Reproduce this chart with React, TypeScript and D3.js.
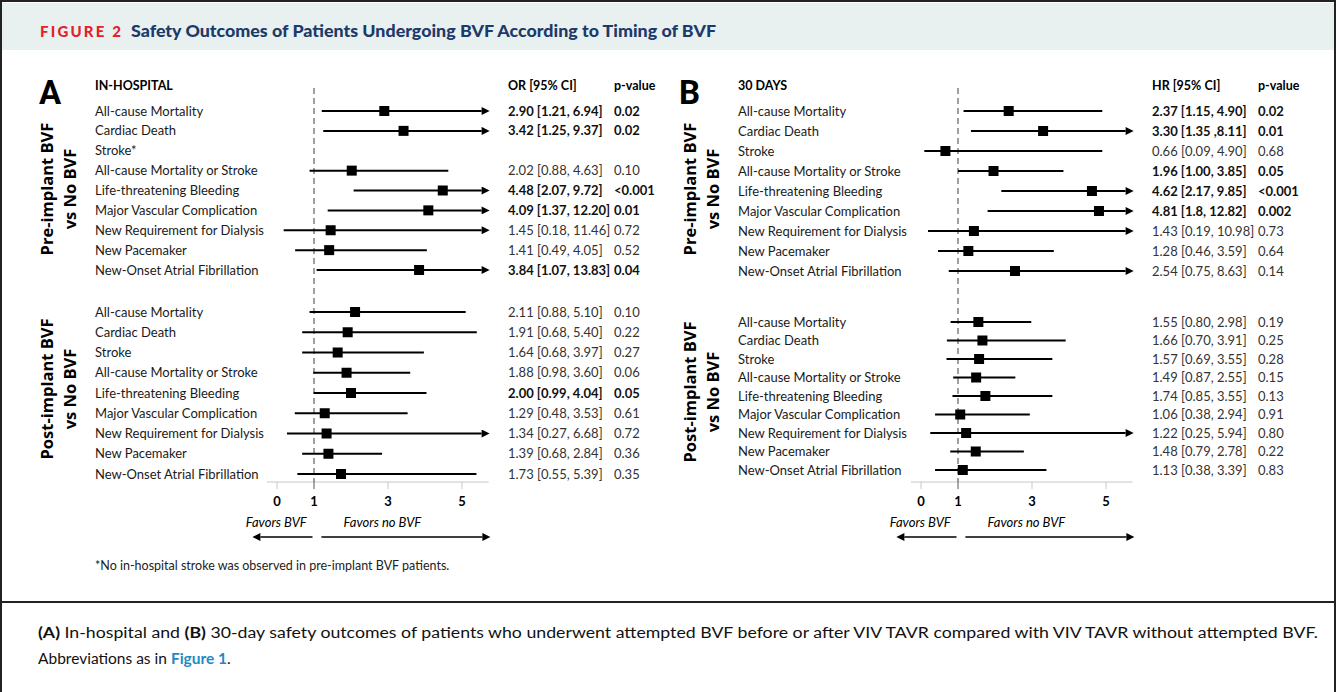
import React, { useEffect, useRef } from 'react';
import * as d3 from 'd3';

// outcome names, same order in every block
const outcomes = [
  'All-cause Mortality',
  'Cardiac Death',
  'Stroke',
  'All-cause Mortality or Stroke',
  'Life-threatening Bleeding',
  'Major Vascular Complication',
  'New Requirement for Dialysis',
  'New Pacemaker',
  'New-Onset Atrial Fibrillation',
];

// A: in-hospital, pre-implant BVF vs no BVF (stroke not observed)
const hospPreEst = [2.9, 3.42, null, 2.02, 4.48, 4.09, 1.45, 1.41, 3.84];
const hospPreLo = [1.21, 1.25, null, 0.88, 2.07, 1.37, 0.18, 0.49, 1.07];
const hospPreHi = [6.94, 9.37, null, 4.63, 9.72, 12.2, 11.46, 4.05, 13.83];
const hospPreCI = ['2.90 [1.21, 6.94]', '3.42 [1.25, 9.37]', '', '2.02 [0.88, 4.63]', '4.48 [2.07, 9.72]', '4.09 [1.37, 12.20]', '1.45 [0.18, 11.46]', '1.41 [0.49, 4.05]', '3.84 [1.07, 13.83]'];
const hospPreP = ['0.02', '0.02', '', '0.10', '<0.001', '0.01', '0.72', '0.52', '0.04'];
const hospPreBold = [true, true, false, false, true, true, false, false, true];

// A: in-hospital, post-implant BVF vs no BVF
const hospPostEst = [2.11, 1.91, 1.64, 1.88, 2.0, 1.29, 1.34, 1.39, 1.73];
const hospPostLo = [0.88, 0.68, 0.68, 0.98, 0.99, 0.48, 0.27, 0.68, 0.55];
const hospPostHi = [5.1, 5.4, 3.97, 3.6, 4.04, 3.53, 6.68, 2.84, 5.39];
const hospPostCI = ['2.11 [0.88, 5.10]', '1.91 [0.68, 5.40]', '1.64 [0.68, 3.97]', '1.88 [0.98, 3.60]', '2.00 [0.99, 4.04]', '1.29 [0.48, 3.53]', '1.34 [0.27, 6.68]', '1.39 [0.68, 2.84]', '1.73 [0.55, 5.39]'];
const hospPostP = ['0.10', '0.22', '0.27', '0.06', '0.05', '0.61', '0.72', '0.36', '0.35'];
const hospPostBold = [false, false, false, false, true, false, false, false, false];

// B: 30 days, pre-implant BVF vs no BVF
const dayPreEst = [2.37, 3.3, 0.66, 1.96, 4.62, 4.81, 1.43, 1.28, 2.54];
const dayPreLo = [1.15, 1.35, 0.09, 1.0, 2.17, 1.8, 0.19, 0.46, 0.75];
const dayPreHi = [4.9, 8.11, 4.9, 3.85, 9.85, 12.82, 10.98, 3.59, 8.63];
const dayPreCI = ['2.37 [1.15, 4.90]', '3.30 [1.35 ,8.11]', '0.66 [0.09, 4.90]', '1.96 [1.00, 3.85]', '4.62 [2.17, 9.85]', '4.81 [1.8, 12.82]', '1.43 [0.19, 10.98]', '1.28 [0.46, 3.59]', '2.54 [0.75, 8.63]'];
const dayPreP = ['0.02', '0.01', '0.68', '0.05', '<0.001', '0.002', '0.73', '0.64', '0.14'];
const dayPreBold = [true, true, false, true, true, true, false, false, false];

// B: 30 days, post-implant BVF vs no BVF
const dayPostEst = [1.55, 1.66, 1.57, 1.49, 1.74, 1.06, 1.22, 1.48, 1.13];
const dayPostLo = [0.8, 0.7, 0.69, 0.87, 0.85, 0.38, 0.25, 0.79, 0.38];
const dayPostHi = [2.98, 3.91, 3.55, 2.55, 3.55, 2.94, 5.94, 2.78, 3.39];
const dayPostCI = ['1.55 [0.80, 2.98]', '1.66 [0.70, 3.91]', '1.57 [0.69, 3.55]', '1.49 [0.87, 2.55]', '1.74 [0.85, 3.55]', '1.06 [0.38, 2.94]', '1.22 [0.25, 5.94]', '1.48 [0.79, 2.78]', '1.13 [0.38, 3.39]'];
const dayPostP = ['0.19', '0.25', '0.28', '0.15', '0.13', '0.91', '0.80', '0.22', '0.83'];
const dayPostBold = [false, false, false, false, false, false, false, false, false];

const axisTicks = [0, 1, 3, 5];
const axisMin = -0.27;
const axisMax = 5.72;

const chartFont = "Lato, 'Open Sans', sans-serif";
const headFont = "'Open Sans', 'Noto Sans', sans-serif";

function drawBlock(g, x, yTop, yBottom, names, est, lo, hi, ci, p, bold, cols) {
  const y = d3.scalePoint().domain(names).range([yTop, yBottom]);

  names.forEach((name, i) => {
    const yy = y(name);
    g.append('text')
      .attr('x', cols.label).attr('y', yy).attr('dy', '0.35em')
      .attr('font-size', 13).attr('fill', '#1a1a1a')
      .text(name);
    g.append('text')
      .attr('x', cols.ci).attr('y', yy).attr('dy', '0.35em')
      .attr('font-size', 13).attr('fill', bold[i] ? '#111' : '#333')
      .attr('font-weight', bold[i] ? 'bold' : 'normal')
      .text(ci[i]);
    g.append('text')
      .attr('x', cols.p).attr('y', yy).attr('dy', '0.35em')
      .attr('font-size', 13).attr('fill', bold[i] ? '#111' : '#333')
      .attr('font-weight', bold[i] ? 'bold' : 'normal')
      .text(p[i]);

    if (est[i] == null) return;
    const clipped = hi[i] > axisMax;
    g.append('line')
      .attr('x1', x(Math.max(lo[i], axisMin))).attr('x2', x(clipped ? axisMax : hi[i]) - (clipped ? 7 : 0))
      .attr('y1', yy).attr('y2', yy)
      .attr('stroke', '#000').attr('stroke-width', 2)
      .attr('marker-end', clipped ? 'url(#ciArrow)' : null);
    g.append('rect')
      .attr('x', x(est[i]) - 5).attr('y', yy - 5)
      .attr('width', 10).attr('height', 10)
      .attr('fill', '#000');
  });
}

function drawPanel(svg, cfg) {
  const g = svg.append('g').attr('font-family', chartFont);
  const x = d3.scaleLinear().domain([0, 5]).range([cfg.x0, cfg.x0 + 185]);
  const axisY = 482;

  g.append('text')
    .attr('x', cfg.letterX).attr('y', 104)
    .attr('font-family', 'Roboto, sans-serif')
    .attr('font-size', 33).attr('font-weight', 'bold')
    .text(cfg.letter);

  g.append('text').attr('x', cfg.cols.label).attr('y', 90)
    .attr('font-size', 12.5).attr('font-weight', 'bold').text(cfg.title);
  g.append('text').attr('x', cfg.cols.ci).attr('y', 90)
    .attr('font-size', 12.5).attr('font-weight', 'bold').text(cfg.measure);
  g.append('text').attr('x', cfg.cols.p).attr('y', 90)
    .attr('font-size', 12.5).attr('font-weight', 'bold').text('p-value');

  // axis
  g.append('line')
    .attr('x1', x(axisMin)).attr('x2', x(axisMax))
    .attr('y1', axisY).attr('y2', axisY)
    .attr('stroke', '#c8c8c8').attr('stroke-width', 1);
  axisTicks.forEach(t => {
    g.append('line')
      .attr('x1', x(t)).attr('x2', x(t))
      .attr('y1', axisY).attr('y2', axisY + 7)
      .attr('stroke', t === 1 ? '#555' : '#c8c8c8').attr('stroke-width', 1);
    g.append('text')
      .attr('x', x(t)).attr('y', 506)
      .attr('text-anchor', 'middle')
      .attr('font-size', 13).attr('font-weight', 'bold')
      .text(t);
  });

  // reference line at 1
  g.append('line')
    .attr('x1', x(1)).attr('x2', x(1))
    .attr('y1', 88).attr('y2', axisY)
    .attr('stroke', '#777').attr('stroke-width', 1.4)
    .attr('stroke-dasharray', '6,4');

  drawBlock(g, x, cfg.preY[0], cfg.preY[1], cfg.preNames, cfg.pre.est, cfg.pre.lo, cfg.pre.hi, cfg.pre.ci, cfg.pre.p, cfg.pre.bold, cfg.cols);
  drawBlock(g, x, cfg.postY[0], cfg.postY[1], outcomes, cfg.post.est, cfg.post.lo, cfg.post.hi, cfg.post.ci, cfg.post.p, cfg.post.bold, cfg.cols);

  // group labels
  const groups = [
    { lines: ['Pre-implant BVF', 'vs No BVF'], cy: cfg.preMid },
    { lines: ['Post-implant BVF', 'vs No BVF'], cy: cfg.postMid },
  ];
  groups.forEach(gr => {
    gr.lines.forEach((ln, k) => {
      g.append('text')
        .attr('transform', `translate(${cfg.groupX + k * 23},${gr.cy}) rotate(-90)`)
        .attr('text-anchor', 'middle').attr('dy', '0.35em')
        .attr('font-family', headFont)
        .attr('font-size', 16.5).attr('font-weight', 'bold')
        .text(ln);
    });
  });

  // favors
  g.append('text').attr('x', x(-0.02)).attr('y', 527)
    .attr('text-anchor', 'middle').attr('font-size', 13).attr('font-style', 'italic')
    .text('Favors BVF');
  g.append('text').attr('x', x(2.85)).attr('y', 527)
    .attr('text-anchor', 'middle').attr('font-size', 13).attr('font-style', 'italic')
    .text('Favors no BVF');
  g.append('line')
    .attr('x1', x(0.96)).attr('x2', x(-0.45))
    .attr('y1', 537).attr('y2', 537)
    .attr('stroke', '#000').attr('stroke-width', 1.6)
    .attr('marker-end', 'url(#ciArrow)');
  g.append('line')
    .attr('x1', x(1.2)).attr('x2', x(5.55))
    .attr('y1', 537).attr('y2', 537)
    .attr('stroke', '#000').attr('stroke-width', 1.6)
    .attr('marker-end', 'url(#ciArrow)');
}

export default function App() {
  const ref = useRef(null);

  useEffect(() => {
    const svg = d3.select(ref.current);
    svg.selectAll('*').remove();

    svg.append('defs').append('marker')
      .attr('id', 'ciArrow')
      .attr('viewBox', '0 0 10 10')
      .attr('refX', 0).attr('refY', 5)
      .attr('markerUnits', 'userSpaceOnUse')
      .attr('markerWidth', 9).attr('markerHeight', 8)
      .attr('orient', 'auto')
      .append('path').attr('d', 'M0,0 L10,5 L0,10 z').attr('fill', '#000');

    // frame and header
    svg.append('rect').attr('x', 1).attr('y', 1).attr('width', 1334).attr('height', 720)
      .attr('fill', '#fff').attr('stroke', '#222').attr('stroke-width', 2);
    svg.append('rect').attr('x', 2).attr('y', 3).attr('width', 1332).attr('height', 47)
      .attr('fill', '#e9f1f0');
    svg.append('line').attr('x1', 0).attr('x2', 1336).attr('y1', 602).attr('y2', 602)
      .attr('stroke', '#222').attr('stroke-width', 2);

    svg.append('text').attr('x', 40).attr('y', 37)
      .attr('font-family', 'Lato, sans-serif').attr('font-size', 15).attr('font-weight', 900)
      .attr('fill', '#e2222b')
      .attr('textLength', 81).attr('lengthAdjust', 'spacing')
      .text('FIGURE 2');
    svg.append('text').attr('x', 131).attr('y', 37)
      .attr('font-family', 'Lato, sans-serif').attr('font-size', 16).attr('font-weight', 900)
      .attr('fill', '#1c3a6a')
      .attr('textLength', 585).attr('lengthAdjust', 'spacingAndGlyphs')
      .text('Safety Outcomes of Patients Undergoing BVF According to Timing of BVF');

    drawPanel(svg, {
      letter: 'A', letterX: 39, title: 'IN-HOSPITAL', measure: 'OR [95% CI]',
      x0: 277, groupX: 47, cols: { label: 95, ci: 508, p: 614 },
      preNames: outcomes.map(d => (d === 'Stroke' ? 'Stroke*' : d)),
      preY: [111, 270], postY: [312, 474], preMid: 189, postMid: 389,
      pre: { est: hospPreEst, lo: hospPreLo, hi: hospPreHi, ci: hospPreCI, p: hospPreP, bold: hospPreBold },
      post: { est: hospPostEst, lo: hospPostLo, hi: hospPostHi, ci: hospPostCI, p: hospPostP, bold: hospPostBold },
    });
    drawPanel(svg, {
      letter: 'B', letterX: 679, title: '30 DAYS', measure: 'HR [95% CI]',
      x0: 921, groupX: 690, cols: { label: 738, ci: 1152, p: 1258 },
      preNames: outcomes,
      preY: [111, 271], postY: [322, 470], preMid: 189, postMid: 392,
      pre: { est: dayPreEst, lo: dayPreLo, hi: dayPreHi, ci: dayPreCI, p: dayPreP, bold: dayPreBold },
      post: { est: dayPostEst, lo: dayPostLo, hi: dayPostHi, ci: dayPostCI, p: dayPostP, bold: dayPostBold },
    });

    svg.append('text').attr('x', 95).attr('y', 570)
      .attr('font-family', chartFont).attr('font-size', 12.5).attr('fill', '#222')
      .text('*No in-hospital stroke was observed in pre-implant BVF patients.');

    // caption
    const cap = svg.append('text').attr('x', 38).attr('y', 638)
      .attr('font-family', 'Lato, sans-serif').attr('font-size', 15.5).attr('fill', '#111')
      .attr('textLength', 1280).attr('lengthAdjust', 'spacingAndGlyphs');
    cap.append('tspan').attr('font-weight', 'bold').text('(A)');
    cap.append('tspan').text(' In-hospital and ');
    cap.append('tspan').attr('font-weight', 'bold').text('(B)');
    cap.append('tspan').text(' 30-day safety outcomes of patients who underwent attempted BVF before or after VIV TAVR compared with VIV TAVR without attempted BVF.');

    const cap2 = svg.append('text').attr('x', 38).attr('y', 664)
      .attr('font-family', 'Lato, sans-serif').attr('font-size', 15.5).attr('fill', '#111');
    cap2.append('tspan').text('Abbreviations as in ');
    cap2.append('tspan').attr('font-weight', 'bold').attr('fill', '#1f8ac4').text('Figure 1');
    cap2.append('tspan').text('.');
  }, []);

  return (
    <div>
      <style>{'body{margin:0}'}</style>
      <svg ref={ref} width={1336} height={692} style={{ display: 'block' }}></svg>
    </div>
  );
}
